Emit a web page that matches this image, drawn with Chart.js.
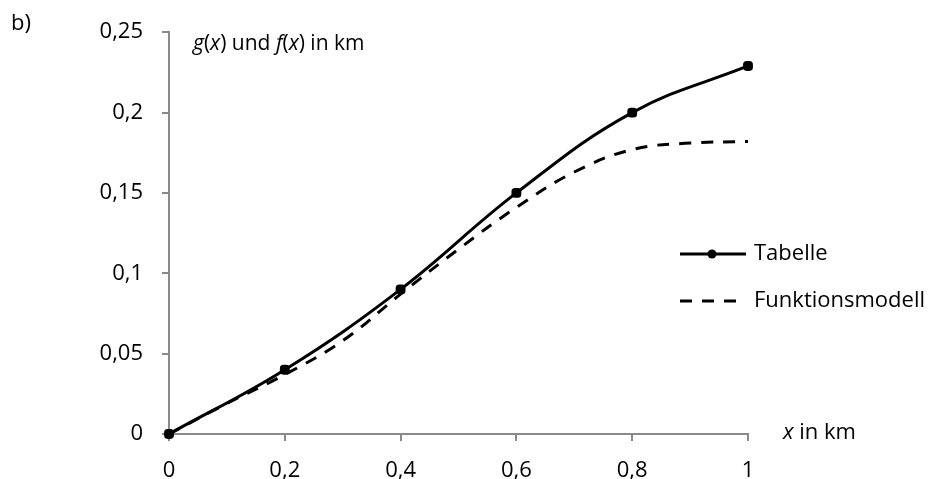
<!DOCTYPE html>
<html>
<head>
<meta charset="utf-8">
<title>g(x) und f(x)</title>
<script src="https://cdn.jsdelivr.net/npm/chart.js@4.4.1/dist/chart.umd.min.js"></script>
<style>
  html, body { margin: 0; padding: 0; background: #fff; }
  canvas { display: block; }
</style>
</head>
<body>
<canvas id="myChart" width="935" height="479"></canvas>
<script>
// values
const xTabelle = [0, 0.2, 0.4, 0.6, 0.8, 1];
const yTabelle = [0, 0.04, 0.09, 0.15, 0.2, 0.229];

const xModell = [0, 0.1, 0.2, 0.3, 0.4, 0.5, 0.6, 0.7, 0.8, 0.9, 1];
const yModell = [0, 0.019, 0.037, 0.058, 0.087, 0.115, 0.141, 0.163, 0.177, 0.181, 0.182];

const seriesNames = ['Tabelle', 'Funktionsmodell'];

const FONT = "'Open Sans', sans-serif";
const FONT_SIZE = 22;
const AXIS_GREY = '#8a8a8a';

function toPoints(xs, ys) {
  return xs.map((x, i) => ({ x: x, y: ys[i] }));
}

function fmt(v) {
  return String(Math.round(v * 100) / 100).replace('.', ',');
}

// draws "b)", the title with italic parts, the x axis title and the legend
const extras = {
  id: 'extras',
  afterDraw(chart) {
    const ctx = chart.ctx;
    ctx.save();
    ctx.fillStyle = '#000';
    ctx.textBaseline = 'middle';
    ctx.font = FONT_SIZE + 'px ' + FONT;
    ctx.fillText('b)', 11, 24);

    // title: g(x) und f(x) in km
    const parts = [['g', 1], ['(', 0], ['x', 1], [') und ', 0], ['f', 1], ['(', 0], ['x', 1], [') in km', 0]];
    let x = 193;
    parts.forEach(p => {
      ctx.font = (p[1] ? 'italic ' : '') + '21px ' + FONT;
      ctx.fillText(p[0], x, 44);
      x += ctx.measureText(p[0]).width;
    });

    // x axis title
    ctx.font = 'italic ' + FONT_SIZE + 'px ' + FONT;
    ctx.fillText('x', 783, 433);
    let w = ctx.measureText('x').width;
    ctx.font = FONT_SIZE + 'px ' + FONT;
    ctx.fillText(' in km', 783 + w, 433);

    // legend
    const ds = chart.data.datasets;
    const rows = [254, 301];
    ds.forEach((d, i) => {
      const y = rows[i];
      ctx.strokeStyle = d.borderColor;
      ctx.lineWidth = d.borderWidth;
      ctx.setLineDash(d.borderDash || []);
      ctx.beginPath();
      ctx.moveTo(680, y);
      ctx.lineTo(i === 0 ? 746 : 738, y);
      ctx.stroke();
      ctx.setLineDash([]);
      if (d.pointRadius > 0) {
        ctx.fillStyle = '#000';
        ctx.beginPath();
        ctx.arc(712, y, 4.5, 0, Math.PI * 2);
        ctx.fill();
      }
      ctx.fillStyle = '#000';
      ctx.font = FONT_SIZE + 'px ' + FONT;
      ctx.fillText(d.label, 754, y);
    });
    ctx.restore();
  }
};

const ctx = document.getElementById('myChart').getContext('2d');
const myChart = new Chart(ctx, {
  type: 'line',
  data: {
    datasets: [{
      label: seriesNames[0],
      data: toPoints(xTabelle, yTabelle),
      borderColor: '#000',
      backgroundColor: '#000',
      borderWidth: 3,
      tension: 0.4,
      pointStyle: 'rectRounded',
      pointRadius: 4,
      pointBackgroundColor: '#000',
      pointBorderColor: '#000',
      clip: 10,
      fill: false
    }, {
      label: seriesNames[1],
      data: toPoints(xModell, yModell),
      borderColor: '#000',
      borderWidth: 3,
      borderDash: [12, 10],
      tension: 0.4,
      pointRadius: 0,
      fill: false
    }]
  },
  options: {
    responsive: false,
    animation: false,
    devicePixelRatio: 1,
    layout: { padding: { left: 0, right: 187, top: 28, bottom: 0 } },
    plugins: {
      legend: { display: false },
      tooltip: { enabled: false }
    },
    scales: {
      x: {
        type: 'linear',
        min: 0,
        max: 1,
        afterFit: s => { s.height = 45; },
        border: { color: AXIS_GREY, width: 2 },
        grid: { drawOnChartArea: false, drawTicks: true, tickLength: 7, color: AXIS_GREY, lineWidth: 2 },
        ticks: {
          stepSize: 0.2,
          color: '#000',
          font: { family: FONT, size: FONT_SIZE },
          padding: 17,
          maxRotation: 0,
          callback: v => fmt(v)
        }
      },
      y: {
        min: 0,
        max: 0.25,
        afterFit: s => { s.width = 169; },
        border: { color: AXIS_GREY, width: 2 },
        grid: { drawOnChartArea: false, drawTicks: true, tickLength: 7, color: AXIS_GREY, lineWidth: 2 },
        ticks: {
          stepSize: 0.05,
          color: '#000',
          font: { family: FONT, size: FONT_SIZE },
          padding: 19,
          callback: v => fmt(v)
        }
      }
    }
  },
  plugins: [extras]
});
</script>
</body>
</html>
